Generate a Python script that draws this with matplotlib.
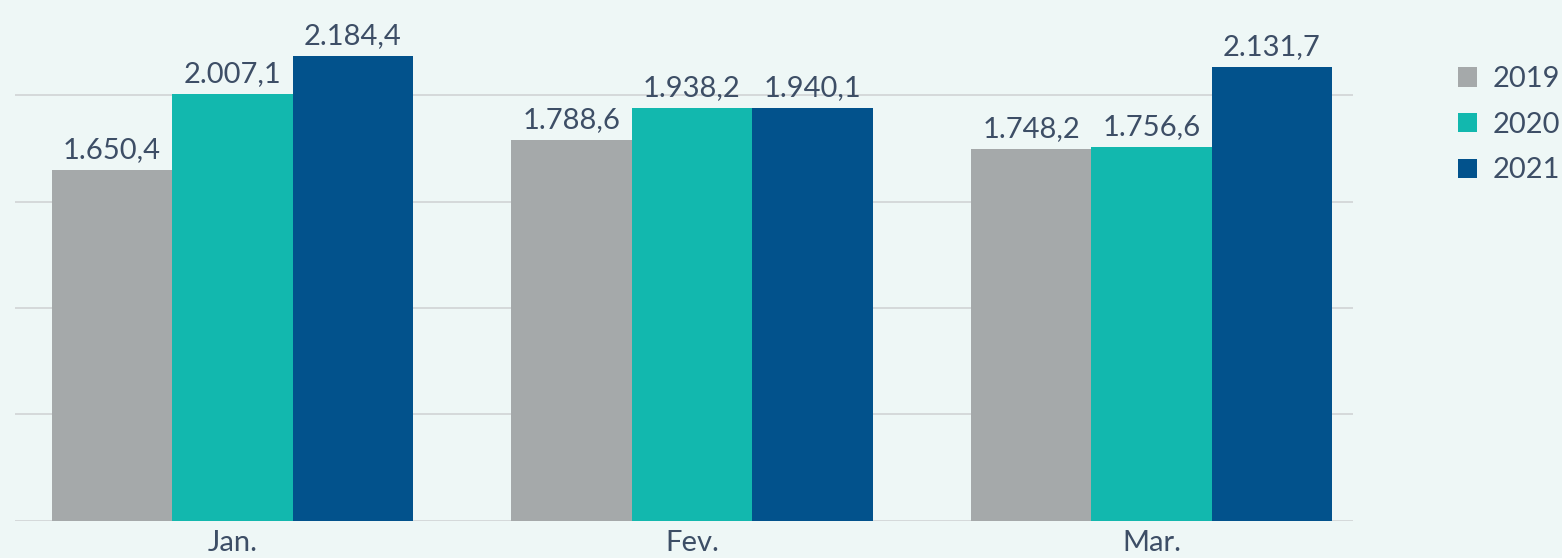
import numpy as np
from matplotlib import pyplot as plt
from matplotlib.patches import Patch

plt.rcParams['font.family'] = ['Lato', 'DejaVu Sans']

# data
months = ['Jan.', 'Fev.', 'Mar.']
years = ['2019', '2020', '2021']
v2019 = [1650.4, 1788.6, 1748.2]
v2020 = [2007.1, 1938.2, 1756.6]
v2021 = [2184.4, 1940.1, 2131.7]
series = [v2019, v2020, v2021]
colors = ['#a5a9aa', '#12b8ae', '#02528c']

bg = '#eef7f6'
txt = '#3d4e66'


def fmt(v):
    s = f'{v:,.1f}'
    return s.replace(',', 'X').replace('.', ',').replace('X', '.')


fig = plt.figure(figsize=(15.62, 5.58), dpi=100, facecolor=bg)
ax = fig.add_axes([0.0096, 0.0668, 0.8565, 0.9332])
ax.set_facecolor(bg)

x = np.arange(len(months))
w = 0.262
for i, (vals, c) in enumerate(zip(series, colors)):
    bars = ax.bar(x + (i - 1) * w, vals, width=w, color=c, zorder=3)
    ax.bar_label(bars, labels=[fmt(v) for v in vals], padding=5,
                 fontsize=21, color=txt)

ax.set_xlim(-0.473, 2.438)
ax.set_ylim(0, 2447)
ax.set_yticks([0, 500, 1000, 1500, 2000])
ax.yaxis.grid(True, color='#d3d6d7', linewidth=1.3, zorder=0)
ax.tick_params(axis='y', left=False, labelleft=False)
ax.set_xticks(x)
ax.set_xticklabels(months, fontsize=21, color=txt)
ax.tick_params(axis='x', length=0, pad=7)
for s in ax.spines.values():
    s.set_visible(False)

handles = [Patch(facecolor=c, edgecolor='none') for c in colors]
fig.legend(handles, years, loc='upper left', bbox_to_anchor=(0.9334, 0.881),
           frameon=False, fontsize=21, labelcolor=txt, handlelength=0.65,
           handleheight=0.65, handletextpad=0.55, labelspacing=0.67,
           borderpad=0, borderaxespad=0)

fig.savefig('out.png', dpi=100, facecolor=bg)
